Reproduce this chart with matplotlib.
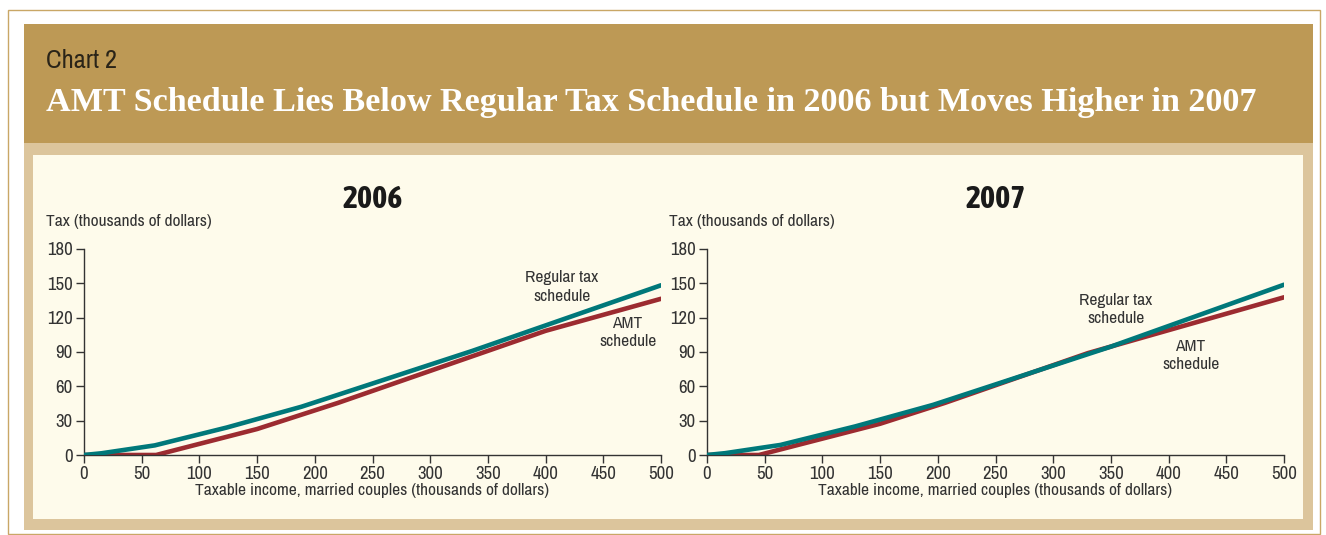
import matplotlib
matplotlib.use("Agg")
import matplotlib.pyplot as plt
from matplotlib.patches import Rectangle

# data: break points of each schedule (thousands of dollars)
inc_reg_2006 = [0, 15.1, 61.3, 123.7, 188.5, 336.6, 500]
tax_reg_2006 = [0, 1.5, 8.4, 24.0, 42.2, 91.0, 148.3]
inc_amt_2006 = [0, 62.5, 150, 220, 400, 500]
tax_amt_2006 = [0, 0, 22.7, 45.5, 108.5, 136.5]

inc_reg_2007 = [0, 15.7, 63.7, 128.5, 195.9, 349.7, 500]
tax_reg_2007 = [0, 1.6, 8.8, 25.0, 43.8, 94.6, 148.8]
inc_amt_2007 = [0, 45, 150, 206, 330, 500]
tax_amt_2007 = [0, 0, 27.3, 45.5, 89.0, 137.8]

xticks = [0, 50, 100, 150, 200, 250, 300, 350, 400, 450, 500]
yticks = [0, 30, 60, 90, 120, 150, 180]

TEAL = "#00787a"
RED = "#9c2b30"
TXT = "#333333"
NARROW = ["Archivo Narrow", "DejaVu Sans"]
BOLDC = ["Asap Condensed", "DejaVu Sans"]

W, H = 1326, 535
fig = plt.figure(figsize=(W / 100, H / 100), dpi=100)
fig.patch.set_facecolor("white")


def box(x0, y0, x1, y1, **kw):
    fig.add_artist(Rectangle((x0 / W, 1 - y1 / H), (x1 - x0) / W, (y1 - y0) / H,
                             transform=fig.transFigure, zorder=-5, **kw))


box(8, 10, 1320, 534, facecolor="white", edgecolor="#c9a766", lw=1)
box(24, 24, 1313, 145, facecolor="#bd9955", edgecolor="none")
box(24, 143, 1313, 530, facecolor="#dcc59c", edgecolor="none")
box(33, 155, 1303, 519, facecolor="#fefbeb", edgecolor="none")

fig.text(46 / W, 1 - 60 / H, "Chart 2", family=NARROW, fontsize=19,
         color="#2a2418", va="center", ha="left")
fig.text(46 / W, 1 - 102 / H,
         "AMT Schedule Lies Below Regular Tax Schedule in 2006 but Moves Higher in 2007",
         family=["Liberation Serif", "DejaVu Serif"], fontweight="bold", fontsize=24.6,
         color="white", va="center", ha="left")

panels = [
    ("2006", 84, inc_reg_2006, tax_reg_2006, inc_amt_2006, tax_amt_2006,
     (414, 147), (471, 107)),
    ("2007", 707, inc_reg_2007, tax_reg_2007, inc_amt_2007, tax_amt_2007,
     (354, 127), (419, 87)),
]

for year, x0, xr, yr, xa, ya, reg_pos, amt_pos in panels:
    ax = fig.add_axes([x0 / W, 1 - 455 / H, 577 / W, 206 / H])
    ax.set_facecolor("none")
    ax.plot(xr, yr, color=TEAL, lw=3.3, solid_capstyle="round", zorder=3)
    ax.plot(xa, ya, color=RED, lw=3.3, solid_capstyle="round", zorder=2)
    ax.set_xlim(0, 500)
    ax.set_ylim(0, 180)
    ax.set_xticks(xticks)
    ax.set_yticks(yticks)
    for s in ("top", "right"):
        ax.spines[s].set_visible(False)
    for s in ("left", "bottom"):
        ax.spines[s].set_color("#333333")
        ax.spines[s].set_linewidth(1)
    ax.tick_params(direction="out", length=6, width=1, color="#333333",
                   labelsize=13.5, labelcolor=TXT, pad=2)
    for lab in ax.get_xticklabels() + ax.get_yticklabels():
        lab.set_family(NARROW)
    ax.set_xlabel("Taxable income, married couples (thousands of dollars)",
                  family=NARROW, fontsize=12.5, color=TXT, labelpad=1)
    ax.text(-38 / 1.154, 233 / 1.144, "Tax (thousands of dollars)", family=NARROW,
            fontsize=12.5, color=TXT, ha="left", va="center", clip_on=False)
    ax.text(250, 223, year, family=BOLDC, fontweight="bold", fontsize=23,
            color="#1a1a1a", ha="center", va="center", clip_on=False)
    ax.text(*reg_pos, "Regular tax\nschedule", family=NARROW, fontsize=12.5,
            color=TXT, ha="center", va="center", linespacing=1.3)
    ax.text(*amt_pos, "AMT\nschedule", family=NARROW, fontsize=12.5,
            color=TXT, ha="center", va="center", linespacing=1.3)

fig.savefig("out.png", dpi=100, facecolor=fig.get_facecolor())
